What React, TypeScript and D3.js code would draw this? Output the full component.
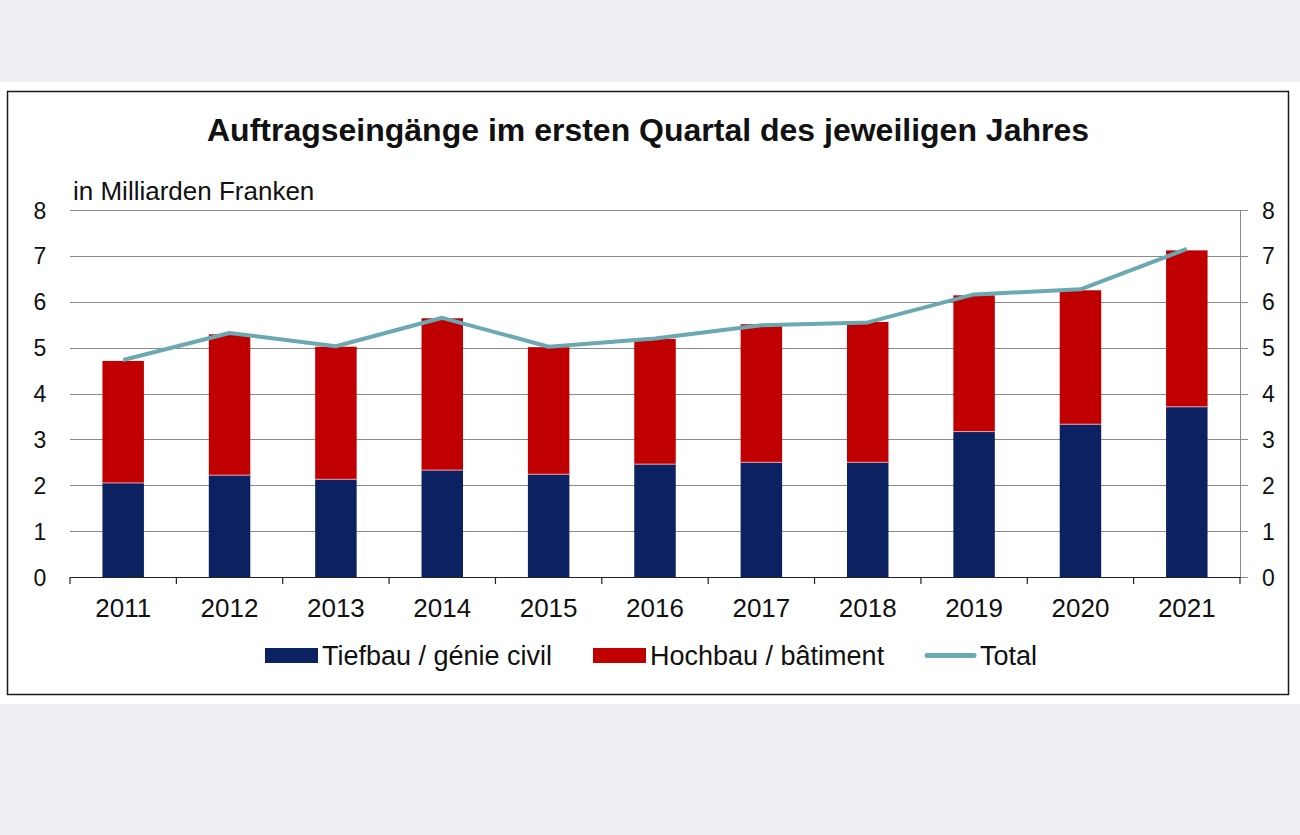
import React from "react";
import * as d3 from "d3";

const years = ["2011", "2012", "2013", "2014", "2015", "2016", "2017", "2018", "2019", "2020", "2021"];
const tiefbau = [2.05, 2.22, 2.13, 2.33, 2.24, 2.46, 2.5, 2.5, 3.17, 3.33, 3.71];
const hochbau = [2.66, 3.07, 2.89, 3.31, 2.77, 2.73, 3.01, 3.06, 2.97, 2.92, 3.41];
const total = [4.73, 5.32, 5.03, 5.65, 5.02, 5.2, 5.49, 5.55, 6.16, 6.27, 7.15];
const yTicks = [0, 1, 2, 3, 4, 5, 6, 7, 8];

const W = 1300;
const H = 835;
const FONT = "'Liberation Sans', Arial, sans-serif";
const BLUE = "#0c2161";
const RED = "#c00000";
const TEAL = "#6aa9b1";

export default function App() {
  const left = 70;
  const right = 1240;
  const top = 210;
  const bottom = 577;
  const x = d3.scaleBand().domain(years).range([left, right]).paddingInner(0.61).paddingOuter(0.305);
  const xc = d3.scaleBand().domain(years).range([left, right]);
  const y = d3.scaleLinear().domain([0, 8]).range([bottom, top]);
  const line = d3
    .line<number>()
    .x((_, i) => (xc(years[i]) as number) + xc.bandwidth() / 2)
    .y((d) => y(d));

  return (
    <svg width={W} height={H} style={{ position: "absolute", left: 0, top: 0 }} fontFamily={FONT}>
      <rect x={0} y={0} width={W} height={H} fill="#efeff3" />
      <rect x={0} y={82} width={W} height={622} fill="#ffffff" />
      <rect x={7.5} y={91.5} width={1281} height={603} fill="#ffffff" stroke="#1a1a1a" strokeWidth={1.5} />
      <text x={648} y={141} textAnchor="middle" fontSize={32} fontWeight="bold" fill="#111">
        Auftragseingänge im ersten Quartal des jeweiligen Jahres
      </text>
      <text x={73} y={200} fontSize={26} fill="#111">in Milliarden Franken</text>

      {yTicks.map((t) => (
        <g key={t}>
          {t > 0 && (
            <line x1={left} x2={right + 8} y1={Math.round(y(t)) + 0.5} y2={Math.round(y(t)) + 0.5} stroke="#8a8a8a" strokeWidth={1} />
          )}
          <text x={40} y={y(t) + 8.5} textAnchor="middle" fontSize={23} fill="#111">{t}</text>
          <text x={1262} y={y(t) + 8.5} textAnchor="start" fontSize={23} fill="#111">{t}</text>
        </g>
      ))}
      <line x1={right + 0.5} x2={right + 0.5} y1={top} y2={bottom} stroke="#8a8a8a" strokeWidth={1} />
      <line x1={right} x2={right + 8} y1={bottom + 0.5} y2={bottom + 0.5} stroke="#8a8a8a" strokeWidth={1} />

      {years.map((yr, i) => (
        <g key={yr}>
          <rect x={x(yr)} y={y(tiefbau[i])} width={x.bandwidth()} height={y(0) - y(tiefbau[i])} fill={BLUE} />
          <rect x={x(yr)} y={y(tiefbau[i] + hochbau[i])} width={x.bandwidth()} height={y(tiefbau[i]) - y(tiefbau[i] + hochbau[i])} fill={RED} />
          <line x1={x(yr)} x2={(x(yr) as number) + x.bandwidth()} y1={y(tiefbau[i])} y2={y(tiefbau[i])} stroke="#e8a0a8" strokeWidth={1} />
          <text x={(xc(yr) as number) + xc.bandwidth() / 2} y={617} textAnchor="middle" fontSize={26} fill="#111">{yr}</text>
        </g>
      ))}

      <line x1={left} x2={right} y1={bottom + 0.5} y2={bottom + 0.5} stroke="#222" strokeWidth={1.2} />
      {years.concat(["end"]).map((_, i) => {
        const tx = left + i * xc.bandwidth();
        return <line key={i} x1={tx} x2={tx} y1={bottom} y2={bottom + 7} stroke="#222" strokeWidth={1.2} />;
      })}

      <path d={line(total) as string} fill="none" stroke={TEAL} strokeWidth={4} strokeLinejoin="round" />

      <rect x={265} y={648} width={53} height={15} fill={BLUE} />
      <text x={322} y={665} fontSize={27} fill="#111">Tiefbau / génie civil</text>
      <rect x={593} y={648} width={53} height={15} fill={RED} />
      <text x={650} y={665} fontSize={27} fill="#111">Hochbau / bâtiment</text>
      <line x1={927} x2={974} y1={655.5} y2={655.5} stroke={TEAL} strokeWidth={5} strokeLinecap="round" />
      <text x={980} y={665} fontSize={27} fill="#111">Total</text>
    </svg>
  );
}
